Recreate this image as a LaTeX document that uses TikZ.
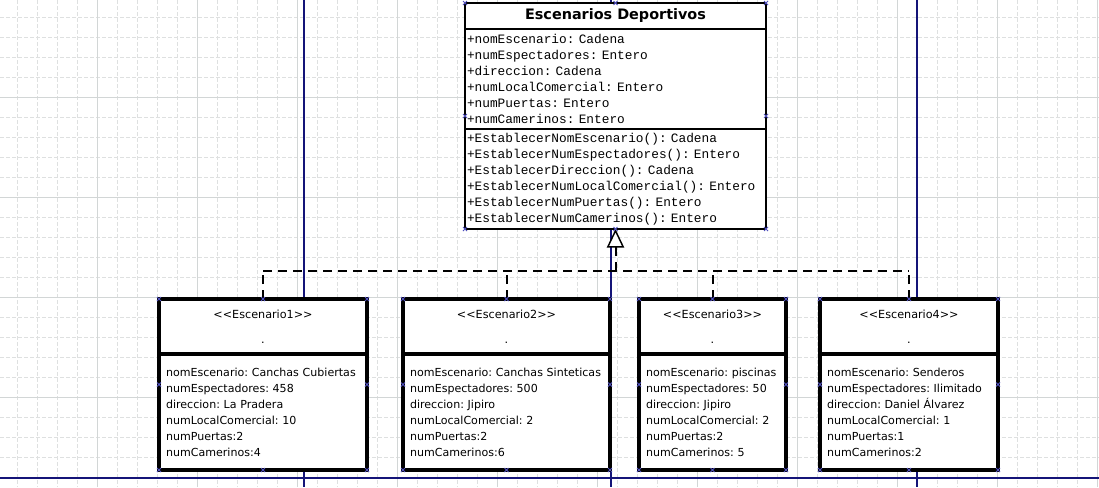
\documentclass[tikz,border=0pt]{standalone}
\usepackage{fontspec}
\setmainfont{DejaVu Sans}
\newfontfamily\codefont{Liberation Mono}
\usetikzlibrary{arrows.meta,calc}
\frenchspacing
\definecolor{gridminor}{RGB}{222,224,224}
\definecolor{gridmajor}{RGB}{210,214,214}
\definecolor{pageline}{RGB}{20,20,120}
\definecolor{handlecol}{RGB}{80,80,190}
\newcommand{\hmark}[1]{\draw[handle] #1 +(-2,-2) -- +(2,2) +(-2,2) -- +(2,-2);}
\newcommand{\handles}[2]{%
  \hmark{(#1.north west)}\hmark{(#1.north)}\hmark{(#1.north east)}
  \hmark{(#2.south west)}\hmark{(#2.south)}\hmark{(#2.south east)}
  \hmark{($(#1.north west)!0.5!(#2.south west)$)}
  \hmark{($(#1.north east)!0.5!(#2.south east)$)}}
\tikzset{
  clshead/.style={draw, line width=1.5pt, outer sep=0pt, fill=white, minimum width=225.75pt, minimum height=19.5pt, inner sep=0pt, font=\bfseries\fontsize{10.8}{12}\selectfont},
  clspart/.style={draw, line width=1.5pt, outer sep=0pt, fill=white, minimum width=225.75pt, minimum height=75pt, text width=222.75pt, inner xsep=1.5pt, inner ysep=0pt, align=left, font=\codefont\fontsize{9.6}{12}\selectfont},
  objhead/.style={draw, line width=3pt, outer sep=0pt, fill=white, minimum width=#1*0.75pt, minimum height=41.25pt, align=center, inner sep=0pt, font=\fontsize{8.4}{18.75}\selectfont},
  objbody/.style={draw, line width=3pt, outer sep=0pt, fill=white, minimum width=#1*0.75pt, minimum height=87pt, text width=#1*0.75pt-10.5pt, inner xsep=5.25pt, inner ysep=0pt, align=left, font=\fontsize{8.3}{12}\selectfont},
  realize/.style={line width=1.5pt, dash pattern=on 6.75pt off 4.5pt},
  handle/.style={handlecol, line width=0.6pt},
}
\begin{document}
\begin{tikzpicture}[x=0.75pt,y=0.75pt,yscale=-1,xscale=1]
\useasboundingbox (0,0) rectangle (1099,487);
\fill[white] (0,0) rectangle (1099,487);

%Grid
\foreach \x in {17,37,...,1097} \draw[gridminor, line width=0.75pt, dash pattern=on 3pt off 1.5pt] (\x,0) -- (\x,487);
\foreach \y in {17,37,...,477} \draw[gridminor, line width=0.75pt, dash pattern=on 3pt off 1.5pt] (0,\y) -- (1099,\y);
\foreach \x in {97,197,...,1097} \draw[gridmajor, line width=0.75pt] (\x,0) -- (\x,487);
\foreach \y in {97,197,...,397} \draw[gridmajor, line width=0.75pt] (0,\y) -- (1099,\y);

%Page borders
\foreach \x in {304,611,917} \draw[pageline, line width=0.9pt] (\x,0) -- (\x,487);
\draw[pageline, line width=0.9pt] (0,478) -- (1099,478);

% Class
\node[clshead, anchor=north] (esc) at (615.5,3) {Escenarios Deportivos};
\node[clspart, anchor=north] (attr) at (esc.south) {+nomEscenario: Cadena\\+numEspectadores: Entero\\+direccion: Cadena\\+numLocalComercial: Entero\\+numPuertas: Entero\\+numCamerinos: Entero};
\node[clspart, anchor=north] (meth) at (attr.south) {+EstablecerNomEscenario(): Cadena\\+EstablecerNumEspectadores(): Entero\\+EstablecerDireccion(): Cadena\\+EstablecerNumLocalComercial(): Entero\\+EstablecerNumPuertas(): Entero\\+EstablecerNumCamerinos(): Entero};

% Objects
\node[objhead=208, anchor=north] (e1h) at (263,299) {<\kern0pt<Escenario1>\kern0pt>\\.};
\node[objbody=208, anchor=north] (e1b) at (e1h.south) {nomEscenario: Canchas Cubiertas\\numEspectadores: 458\\direccion: La Pradera\\numLocalComercial: 10\\numPuertas:2\\numCamerinos:4};
\node[objhead=207, anchor=north] (e2h) at (506.5,299) {<\kern0pt<Escenario2>\kern0pt>\\.};
\node[objbody=207, anchor=north] (e2b) at (e2h.south) {nomEscenario: Canchas Sinteticas\\numEspectadores: 500\\direccion: Jipiro\\numLocalComercial: 2\\numPuertas:2\\numCamerinos:6};
\node[objhead=147, anchor=north] (e3h) at (712.5,299) {<\kern0pt<Escenario3>\kern0pt>\\.};
\node[objbody=147, anchor=north] (e3b) at (e3h.south) {nomEscenario: piscinas\\numEspectadores: 50\\direccion: Jipiro\\numLocalComercial: 2\\numPuertas:2\\numCamerinos: 5};
\node[objhead=178, anchor=north] (e4h) at (909,299) {<\kern0pt<Escenario4>\kern0pt>\\.};
\node[objbody=178, anchor=north] (e4b) at (e4h.south) {nomEscenario: Senderos\\numEspectadores: Ilimitado\\direccion: Daniel Álvarez\\numLocalComercial: 1\\numPuertas:1\\numCamerinos:2};

% Realization
\coordinate (bus) at ($(meth.south)+(0,42)$);
\draw[realize] (e1h.north |- bus) -- (e4h.north |- bus);
\foreach \n in {e1h,e2h,e3h,e4h} \draw[realize] (\n.north) -- (\n.north |- bus);
\draw[realize, -{Triangle[open, fill=white, length=14pt, width=13pt, line width=1.1pt]}] (bus) -- (meth.south);

% Handles
\handles{esc}{meth}
\handles{e1h}{e1b}
\handles{e2h}{e2b}
\handles{e3h}{e3b}
\handles{e4h}{e4b}

\end{tikzpicture}
\end{document}
